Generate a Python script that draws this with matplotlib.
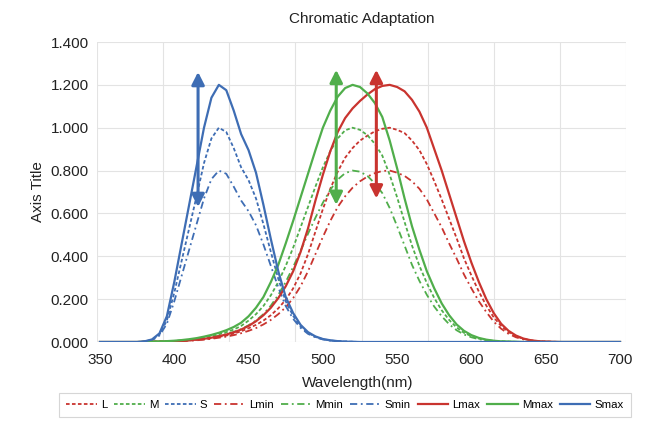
import numpy as np
import matplotlib
matplotlib.use("Agg")
import matplotlib.pyplot as plt

plt.rcParams['font.family'] = ['Liberation Sans', 'DejaVu Sans']

# ---------------- data ----------------
wavelength = np.arange(350, 705, 5)

L_max = [0, 0, 0, 0, 0, 0, 0.001, 0.001, 0.002, 0.002,
         0.003, 0.005, 0.008, 0.011, 0.015, 0.02, 0.027, 0.035, 0.045, 0.058,
         0.075, 0.097, 0.125, 0.16, 0.205, 0.26, 0.33, 0.42, 0.53, 0.66,
         0.78, 0.89, 0.98, 1.045, 1.09, 1.125, 1.155, 1.18, 1.195, 1.20,
         1.19, 1.17, 1.13, 1.075, 1.0, 0.90, 0.80, 0.69, 0.58, 0.47,
         0.37, 0.28, 0.20, 0.135, 0.085, 0.052, 0.03, 0.016, 0.008, 0.004,
         0.002, 0.001, 0, 0, 0, 0, 0, 0, 0, 0, 0]
L_mid = [0, 0, 0, 0, 0, 0, 0.001, 0.001, 0.002, 0.002,
         0.003, 0.004, 0.007, 0.01, 0.013, 0.018, 0.024, 0.03, 0.039, 0.05,
         0.064, 0.08, 0.10, 0.125, 0.157, 0.197, 0.25, 0.32, 0.41, 0.515,
         0.62, 0.715, 0.795, 0.86, 0.905, 0.94, 0.963, 0.983, 0.995, 1.0,
         0.99, 0.975, 0.94, 0.895, 0.83, 0.75, 0.665, 0.575, 0.485, 0.39,
         0.31, 0.235, 0.17, 0.115, 0.075, 0.046, 0.027, 0.015, 0.008, 0.004,
         0.002, 0.001, 0, 0, 0, 0, 0, 0, 0, 0, 0]
L_min = [0, 0, 0, 0, 0, 0, 0.001, 0.001, 0.001, 0.002,
         0.002, 0.004, 0.006, 0.008, 0.011, 0.015, 0.02, 0.025, 0.032, 0.041,
         0.052, 0.065, 0.082, 0.103, 0.13, 0.162, 0.205, 0.26, 0.33, 0.41,
         0.49, 0.565, 0.63, 0.68, 0.72, 0.75, 0.772, 0.788, 0.798, 0.80,
         0.79, 0.775, 0.75, 0.715, 0.665, 0.60, 0.535, 0.46, 0.39, 0.315,
         0.25, 0.19, 0.14, 0.095, 0.062, 0.038, 0.022, 0.012, 0.006, 0.003,
         0.0015, 0.001, 0, 0, 0, 0, 0, 0, 0, 0, 0]

M_max = [0, 0, 0, 0, 0, 0, 0.001, 0.002, 0.003, 0.004,
         0.006, 0.009, 0.013, 0.018, 0.025, 0.033, 0.043, 0.055, 0.07, 0.09,
         0.12, 0.16, 0.21, 0.28, 0.36, 0.46, 0.565, 0.675, 0.785, 0.895,
         1.0, 1.08, 1.145, 1.185, 1.20, 1.19, 1.16, 1.115, 1.05, 0.94,
         0.81, 0.67, 0.54, 0.43, 0.33, 0.25, 0.18, 0.125, 0.082, 0.052,
         0.032, 0.019, 0.011, 0.006, 0.003, 0.002, 0.001, 0, 0, 0,
         0, 0, 0, 0, 0, 0, 0, 0, 0, 0, 0]
M_mid = [0, 0, 0, 0, 0, 0, 0.001, 0.002, 0.002, 0.003,
         0.005, 0.008, 0.011, 0.015, 0.021, 0.028, 0.036, 0.046, 0.058, 0.075,
         0.10, 0.13, 0.168, 0.218, 0.28, 0.355, 0.44, 0.535, 0.63, 0.725,
         0.815, 0.89, 0.95, 0.988, 1.0, 0.99, 0.965, 0.925, 0.87, 0.78,
         0.675, 0.56, 0.45, 0.355, 0.275, 0.205, 0.148, 0.103, 0.068, 0.043,
         0.027, 0.016, 0.009, 0.005, 0.003, 0.002, 0.001, 0, 0, 0,
         0, 0, 0, 0, 0, 0, 0, 0, 0, 0, 0]
M_min = [0, 0, 0, 0, 0, 0, 0.001, 0.001, 0.002, 0.003,
         0.004, 0.006, 0.009, 0.012, 0.017, 0.022, 0.029, 0.037, 0.047, 0.06,
         0.078, 0.10, 0.13, 0.17, 0.22, 0.28, 0.35, 0.425, 0.505, 0.58,
         0.65, 0.71, 0.758, 0.788, 0.80, 0.795, 0.775, 0.74, 0.695, 0.625,
         0.54, 0.45, 0.36, 0.285, 0.22, 0.165, 0.12, 0.083, 0.055, 0.035,
         0.022, 0.013, 0.008, 0.004, 0.002, 0.001, 0.001, 0, 0, 0,
         0, 0, 0, 0, 0, 0, 0, 0, 0, 0, 0]

S_max = [0, 0, 0, 0, 0, 0,
         0.003, 0.012, 0.04, 0.12, 0.28, 0.46, 0.64, 0.82, 1.0, 1.14,
         1.20, 1.175, 1.08, 0.97, 0.895, 0.79, 0.64, 0.48, 0.33, 0.21,
         0.135, 0.08, 0.046, 0.026, 0.014, 0.008, 0.004, 0.002, 0.001,
         0, 0, 0, 0, 0, 0, 0, 0, 0, 0, 0, 0, 0, 0, 0, 0, 0, 0, 0, 0,
         0, 0, 0, 0, 0, 0, 0, 0, 0, 0, 0, 0, 0, 0, 0, 0]
S_mid = [0, 0, 0, 0, 0, 0,
         0.003, 0.01, 0.035, 0.10, 0.23, 0.38, 0.53, 0.68, 0.835, 0.95,
         1.0, 0.98, 0.905, 0.815, 0.755, 0.67, 0.55, 0.42, 0.295, 0.19,
         0.122, 0.073, 0.042, 0.024, 0.013, 0.007, 0.004, 0.002, 0.001,
         0, 0, 0, 0, 0, 0, 0, 0, 0, 0, 0, 0, 0, 0, 0, 0, 0, 0, 0, 0,
         0, 0, 0, 0, 0, 0, 0, 0, 0, 0, 0, 0, 0, 0, 0, 0]
S_min = [0, 0, 0, 0, 0, 0,
         0.002, 0.008, 0.03, 0.085, 0.19, 0.31, 0.43, 0.55, 0.67, 0.76,
         0.80, 0.785, 0.725, 0.66, 0.61, 0.545, 0.455, 0.355, 0.255, 0.168,
         0.108, 0.066, 0.038, 0.022, 0.012, 0.006, 0.003, 0.002, 0.001,
         0, 0, 0, 0, 0, 0, 0, 0, 0, 0, 0, 0, 0, 0, 0, 0, 0, 0, 0, 0,
         0, 0, 0, 0, 0, 0, 0, 0, 0, 0, 0, 0, 0, 0, 0, 0]

series_names = ['L', 'M', 'S', 'Lmin', 'Mmin', 'Smin', 'Lmax', 'Mmax', 'Smax']
series_values = [L_mid, M_mid, S_mid, L_min, M_min, S_min, L_max, M_max, S_max]

x_ticks = [350, 400, 450, 500, 550, 600, 650, 700]
y_ticks = [0.0, 0.2, 0.4, 0.6, 0.8, 1.0, 1.2, 1.4]

# adaptation arrows: (wavelength, low end, high end)
arrow_x = [416, 509, 536]
arrow_lo = [0.63, 0.64, 0.67]
arrow_hi = [1.26, 1.27, 1.27]
arrow_colors_idx = [2, 1, 0]

# ---------------- style ----------------
RED = '#C9342F'
GREEN = '#50AE4B'
BLUE = '#3E6DB4'
colors = [RED, GREEN, BLUE]
dash_style = (0, (2.0, 1.3))
dashdot_style = (0, (4.0, 2.0, 1.0, 2.0))

fig = plt.figure(figsize=(6.48, 4.29), dpi=100)
fig.patch.set_facecolor('white')
ax = fig.add_axes([97 / 648, 1 - 342 / 429, 529 / 648, 300 / 429])

xlim = (350 - 3 / 1.4857, 700 + 6 / 1.4857)
ax.set_xlim(*xlim)
ax.set_ylim(0, 1.4)

for i, (name, vals) in enumerate(zip(series_names, series_values)):
    c = colors[i % 3]
    if i < 3:
        ls, lw = dash_style, 1.3
    elif i < 6:
        ls, lw = dashdot_style, 1.3
    else:
        ls, lw = '-', 1.6
    ax.plot(wavelength, vals, color=c, linestyle=ls, linewidth=lw, label=name,
            zorder=3 + (i >= 6), solid_joinstyle='round')

for xa, lo, hi, ci in zip(arrow_x, arrow_lo, arrow_hi, arrow_colors_idx):
    ax.annotate('', xy=(xa, hi), xytext=(xa, lo),
                arrowprops=dict(arrowstyle='<|-|>,head_length=0.75,head_width=0.38',
                                color=colors[ci], lw=2.2, shrinkA=0, shrinkB=0),
                zorder=6)

# grid
ax.set_xticks(x_ticks)
ax.set_xticks(np.linspace(xlim[0], xlim[1], 9), minor=True)
ax.set_yticks(y_ticks)
ax.set_yticklabels([f'{v:.3f}' for v in y_ticks])
ax.grid(False)
ax.grid(True, which='minor', axis='x', color='#E3E3E3', lw=0.8)
ax.grid(True, which='major', axis='y', color='#E3E3E3', lw=0.8)
ax.tick_params(which='both', length=0, labelsize=11, colors='#222222')
ax.tick_params(axis='x', pad=8)
ax.tick_params(axis='y', pad=6)
for s in ax.spines.values():
    s.set_visible(False)
ax.set_axisbelow(True)

ax.set_title('Chromatic Adaptation', fontsize=11, color='#222222', y=1.035)
ax.set_xlabel('Wavelength(nm)', fontsize=11, color='#222222')
ax.xaxis.set_label_coords(0.493, -0.112)
ax.set_ylabel('Axis Title', fontsize=11, color='#222222')
ax.yaxis.set_label_coords(-0.098, 0.5)

leg = fig.legend(loc='center', bbox_to_anchor=(345 / 648, 1 - 405 / 429), ncol=9,
                 fontsize=8.2, handlelength=2.7, handletextpad=0.35,
                 columnspacing=0.6, frameon=True, fancybox=False,
                 borderpad=0.65, borderaxespad=0)
leg.get_frame().set_edgecolor('#CCCCCC')
leg.get_frame().set_linewidth(0.8)

fig.savefig('out.png', dpi=100)
